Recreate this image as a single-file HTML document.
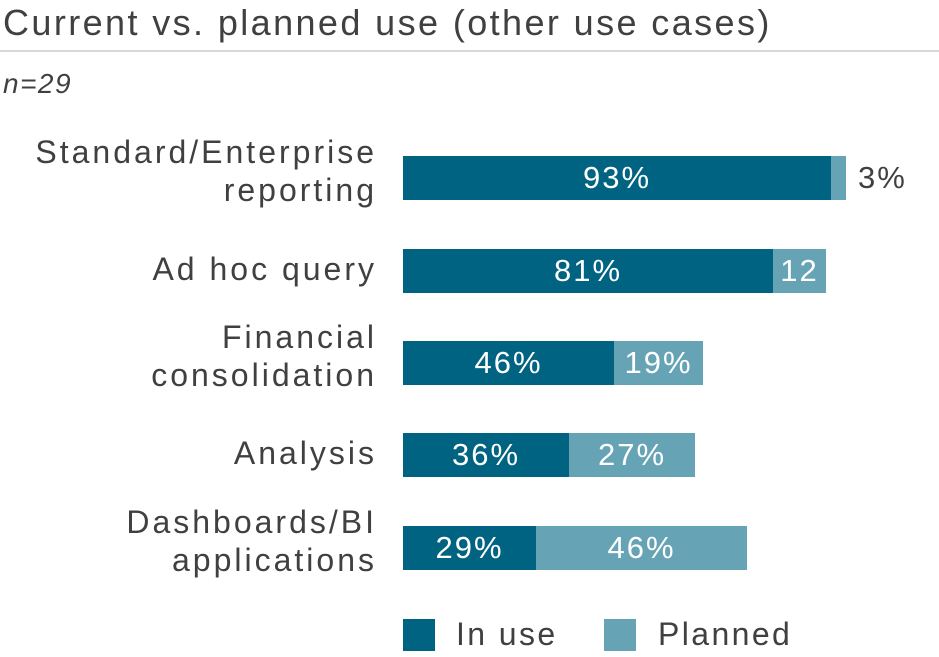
<!DOCTYPE html>
<html><head><style>
body{margin:0;width:939px;height:657px;background:#fff;position:relative;overflow:hidden;font-family:"Liberation Sans",sans-serif;color:#404040}
div{position:absolute;white-space:nowrap}
.l{right:562px;text-align:right;font-size:32px;line-height:38px;letter-spacing:3px}
.b{height:44px;color:#fff;font-size:31px;line-height:44px;text-align:center;letter-spacing:2px}
.d{background:#006381}.p{background:#66a3b5}
</style></head><body>
<div style="left:3px;top:0;font-size:36px;line-height:46px;letter-spacing:2.4px">Current vs. planned use (other use cases)</div>
<div style="left:0;top:50px;width:939px;height:2px;background:#d9d9d9"></div>
<div style="left:3px;top:64px;font-size:28px;font-style:italic;line-height:40px;letter-spacing:1.5px">n=29</div>

<div class="l" style="top:133px">Standard/Enterprise<br>reporting</div>
<div class="b d" style="left:403px;top:156px;width:428px">93%</div>
<div class="b p" style="left:831px;top:156px;width:15px"></div>
<div style="left:858px;top:156px;font-size:31px;line-height:44px;letter-spacing:2px">3%</div>

<div class="l" style="top:250px">Ad hoc query</div>
<div class="b d" style="left:403px;top:249px;width:370px">81%</div>
<div class="b p" style="left:773px;top:249px;width:53px">12</div>

<div class="l" style="top:318px">Financial<br>consolidation</div>
<div class="b d" style="left:403px;top:341px;width:211px">46%</div>
<div class="b p" style="left:614px;top:341px;width:89px">19%</div>

<div class="l" style="top:434px">Analysis</div>
<div class="b d" style="left:403px;top:433px;width:166px">36%</div>
<div class="b p" style="left:569px;top:433px;width:126px">27%</div>

<div class="l" style="top:503px">Dashboards/BI<br>applications</div>
<div class="b d" style="left:403px;top:526px;width:133px">29%</div>
<div class="b p" style="left:536px;top:526px;width:211px">46%</div>

<div class="d" style="left:403px;top:619px;width:32px;height:32px"></div>
<div style="left:456px;top:614px;font-size:32px;line-height:40px;letter-spacing:2.4px">In use</div>
<div class="p" style="left:604px;top:619px;width:32px;height:32px"></div>
<div style="left:658px;top:614px;font-size:32px;line-height:40px;letter-spacing:2.4px">Planned</div>
</body></html>
